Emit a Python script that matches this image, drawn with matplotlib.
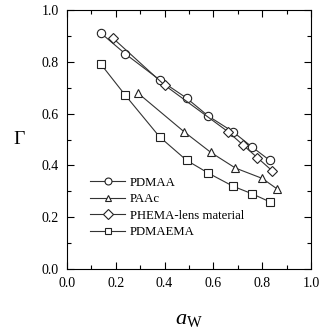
import matplotlib
matplotlib.use("Agg")
import matplotlib.pyplot as plt
from matplotlib.ticker import MultipleLocator

plt.rcParams['font.family'] = ['Liberation Serif', 'DejaVu Serif']
plt.rcParams['mathtext.fontset'] = 'custom'
plt.rcParams['mathtext.rm'] = 'Liberation Serif'
plt.rcParams['mathtext.it'] = 'Liberation Serif:italic'

pdmaa_x = [0.14, 0.24, 0.38, 0.49, 0.58, 0.68, 0.76, 0.83]
pdmaa_y = [0.91, 0.83, 0.73, 0.66, 0.59, 0.53, 0.47, 0.42]
paac_x = [0.29, 0.48, 0.59, 0.69, 0.80, 0.86]
paac_y = [0.68, 0.53, 0.45, 0.39, 0.35, 0.31]
phema_x = [0.19, 0.40, 0.66, 0.72, 0.78, 0.84]
phema_y = [0.89, 0.71, 0.53, 0.48, 0.43, 0.38]
pdmaema_x = [0.14, 0.24, 0.38, 0.49, 0.58, 0.68, 0.76, 0.83]
pdmaema_y = [0.79, 0.67, 0.51, 0.42, 0.37, 0.32, 0.29, 0.26]

fig = plt.figure(figsize=(3.23, 3.31), dpi=100)
ax = fig.add_axes([0.207, 0.187, 0.756, 0.783])

style = dict(color='#333333', lw=0.8, mfc='white', mec='#222222', mew=0.8, ms=6)
ax.plot(pdmaa_x, pdmaa_y, marker='o', label='PDMAA', **style)
ax.plot(paac_x, paac_y, marker='^', label='PAAc', **style)
ax.plot(phema_x, phema_y, marker='D', label='PHEMA-lens material', **{**style, 'ms': 5})
ax.plot(pdmaema_x, pdmaema_y, marker='s', label='PDMAEMA', **style)

ax.set_xlim(0, 1)
ax.set_ylim(0, 1)
ax.xaxis.set_major_locator(MultipleLocator(0.2))
ax.xaxis.set_minor_locator(MultipleLocator(0.1))
ax.yaxis.set_major_locator(MultipleLocator(0.2))
ax.yaxis.set_minor_locator(MultipleLocator(0.1))
ax.set_xticklabels([f'{v:.1f}' for v in ax.get_xticks()])
ax.set_yticklabels([f'{v:.1f}' for v in ax.get_yticks()])
ax.tick_params(which='both', direction='in', top=True, right=True, labelsize=10, width=0.8)
ax.tick_params(which='major', length=5, pad=6)
ax.tick_params(which='minor', length=3)
for s in ax.spines.values():
    s.set_linewidth(0.8)

ax.set_xlabel(r'$a_{\mathrm{W}}$', fontsize=16, labelpad=14)
ax.set_ylabel(r'$\Gamma$', fontsize=14, rotation=0, labelpad=16, va='center')

leg = ax.legend(loc='lower left', bbox_to_anchor=(0.075, 0.10), frameon=False, fontsize=9.2,
                handlelength=2.7, handletextpad=0.4, labelspacing=0.35, borderaxespad=0)
for h in leg.legend_handles:
    h.set_markersize(5)

fig.savefig('out.png', dpi=100)
